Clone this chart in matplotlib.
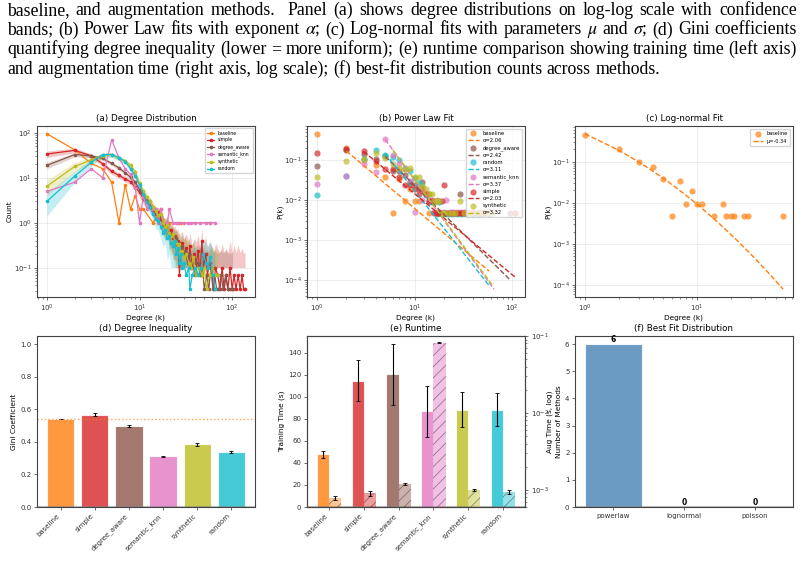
import matplotlib
matplotlib.use('Agg')
import matplotlib.pyplot as plt
import numpy as np

W, H = 804, 572

# methods and colours
methods = ['baseline', 'simple', 'degree_aware', 'semantic_knn', 'synthetic', 'random']
colors = {'baseline': '#ff7f0e', 'simple': '#d62728', 'degree_aware': '#8c564b',
          'semantic_knn': '#e377c2', 'synthetic': '#bcbd22', 'random': '#17becf'}

# degree counts of a single graph per method (panels b, c; baseline and semantic_knn also in a)
base_k = [1, 2, 3, 4, 5, 6, 7, 8, 9, 10, 11, 14, 17, 18, 20, 21, 26, 28, 58]
base_n = [96, 42, 21, 16, 8, 1, 7, 2, 4, 2, 2, 1, 2, 1, 1, 1, 1, 1, 1]
simple_k = [1, 2, 3, 4, 5, 6, 7, 8, 9, 10, 11, 12, 13, 14, 15, 16, 17, 18, 19, 20,
            22, 24, 26, 28, 30, 31, 33, 40, 42, 47, 50, 52, 107]
simple_n = [32, 40, 35, 20, 13, 13, 8, 5, 5, 4, 3, 4, 3, 2, 2, 1, 1, 1, 2, 5,
            1, 1, 1, 1, 1, 1, 1, 1, 1, 1, 1, 1, 1]
da_k = [1, 2, 3, 4, 5, 6, 7, 8, 9, 10, 11, 12, 13, 14, 15, 16, 17, 18, 19,
        21, 23, 25, 29, 32, 35, 38, 44, 48, 56, 95]
da_n = [15, 37, 30, 22, 26, 11, 11, 9, 6, 5, 4, 6, 3, 3, 2, 2, 1, 2, 1,
        1, 1, 1, 3, 1, 1, 1, 1, 1, 1, 1]
sk_k = [1, 2, 3, 4, 5, 6, 7, 8, 9, 10, 11, 12, 13, 14, 15, 16, 17, 18,
        20, 21, 23, 25, 27, 30, 33, 36, 40, 45, 52, 58, 65]
sk_n = [5, 8, 16, 10, 70, 28, 16, 12, 6, 1, 4, 2, 3, 2, 2, 1, 2, 1,
        1, 2, 1, 1, 1, 1, 1, 1, 1, 1, 1, 1, 1]
sy_k = [1, 2, 3, 4, 5, 6, 7, 8, 9, 10, 11, 12, 13, 14, 15, 16, 17, 18, 19, 20,
        22, 24, 26, 29, 32, 36, 41, 47, 55, 62]
sy_n = [8, 21, 23, 32, 25, 17, 14, 13, 14, 8, 8, 5, 4, 3, 3, 2, 2, 2, 1, 1,
        1, 1, 1, 2, 1, 1, 1, 1, 1, 1]
rd_k = [1, 2, 3, 4, 5, 6, 7, 8, 9, 10, 11, 12, 13, 14, 15, 16, 17, 18, 19, 20,
        22, 24, 27, 30, 34, 40, 46, 58]
rd_n = [3, 9, 24, 40, 29, 27, 22, 14, 12, 8, 6, 5, 3, 2, 2, 2, 1, 2, 1, 1,
        1, 1, 1, 1, 1, 1, 1, 1]

# mean / std counts over runs (panel a)
head = list(range(1, 31))
sa_k = head + [32, 34, 35, 37, 39, 41, 43, 45, 47, 49, 52, 54, 57, 60, 63, 66, 70, 74, 78, 82,
               86, 90, 95, 100, 105, 110, 116, 122, 128, 133, 138]
sa_mean = [34, 41, 31, 20.6, 14, 11.3, 9.5, 8.2, 6.2, 4.8, 3.4, 2.9, 2.3, 1.9, 1.6, 1.7, 1.2, 0.95,
           0.8, 1.0, 0.6, 0.7, 0.45, 0.5, 0.33, 0.4, 0.067, 0.3, 0.35, 0.2,
           0.27, 0.13, 0.3, 0.1, 0.2, 0.13, 0.23, 0.067, 0.4, 0.1, 0.2, 0.067, 0.13, 0.1, 0.033, 0.1,
           0.067, 0.033, 0.1, 0.033, 0.067, 0.033, 0.1, 0.033, 0.067, 0.033, 0.067, 0.033, 0.067,
           0.033, 0.033]
sa_std = [5.5, 5, 3.5, 2.6, 2.0, 1.6, 1.4, 1.3, 1.1, 0.9, 0.8, 0.7, 0.6, 0.6, 0.5, 0.55, 0.45, 0.4,
          0.4, 0.45, 0.35, 0.4, 0.3, 0.35, 0.3, 0.35, 0.25, 0.3, 0.3, 0.25,
          0.3, 0.25, 0.3, 0.2, 0.25, 0.25, 0.3, 0.2, 0.35, 0.2, 0.3, 0.2, 0.25, 0.2, 0.18, 0.25,
          0.2, 0.18, 0.25, 0.18, 0.2, 0.18, 0.3, 0.18, 0.25, 0.18, 0.25, 0.18, 0.2, 0.18, 0.18]
daa_k = head + [31, 33, 34, 36, 38, 40, 42, 44, 46, 48, 50, 53, 56, 59, 62, 65, 68, 72, 76, 80,
                85, 90, 96, 101]
daa_mean = [19, 33, 31, 27, 21, 16.5, 13, 10.3, 8, 5.5, 4.2, 3.2, 2.6, 2.0, 1.8, 1.3, 1.4, 1.0,
            0.85, 0.9, 0.6, 0.55, 0.5, 0.4, 0.45, 0.3, 0.35, 0.25, 0.3, 0.2,
            0.23, 0.13, 0.2, 0.1, 0.17, 0.067, 0.13, 0.1, 0.067, 0.1, 0.033, 0.067, 0.033, 0.1,
            0.033, 0.067, 0.033, 0.033, 0.067, 0.033, 0.067, 0.033, 0.033, 0.033]
daa_std = [3, 3.5, 3, 2.5, 2, 1.7, 1.4, 1.2, 1.0, 0.8, 0.7, 0.6, 0.55, 0.5, 0.45, 0.4, 0.45, 0.35,
           0.35, 0.35, 0.3, 0.3, 0.3, 0.25, 0.3, 0.25, 0.25, 0.2, 0.25, 0.2,
           0.25, 0.2, 0.25, 0.18, 0.22, 0.18, 0.2, 0.2, 0.18, 0.2, 0.18, 0.18, 0.18, 0.2,
           0.18, 0.18, 0.18, 0.18, 0.18, 0.18, 0.18, 0.18, 0.18, 0.18]
sya_k = head + [32, 34, 36, 38, 41, 44, 47, 50, 53, 57, 61, 65, 70]
sya_mean = [6.5, 18, 25, 31, 33, 27, 24, 19, 13.5, 7.5, 5, 3.8, 3.0, 2.3, 1.8, 1.5, 1.6, 1.0,
            0.8, 0.9, 0.6, 0.5, 0.55, 0.4, 0.35, 0.3, 0.33, 0.2, 0.23, 0.17,
            0.2, 0.13, 0.1, 0.17, 0.067, 0.1, 0.067, 0.1, 0.033, 0.067, 0.1, 0.067, 0.067]
sya_std = [2.5, 4, 4, 4, 3.5, 3, 2.6, 2.2, 1.7, 1.2, 1.0, 0.8, 0.7, 0.6, 0.55, 0.5, 0.5, 0.4,
           0.4, 0.4, 0.35, 0.3, 0.35, 0.3, 0.3, 0.25, 0.3, 0.25, 0.25, 0.25,
           0.25, 0.22, 0.2, 0.22, 0.18, 0.2, 0.18, 0.2, 0.18, 0.18, 0.2, 0.18, 0.18]
rda_k = head + [32, 34, 35, 37, 40, 43, 46, 49, 52, 55, 58, 62, 65]
rda_mean = [3.0, 11, 22, 33, 33, 28, 23, 16, 11, 6.8, 4.4, 2.9, 2.2, 1.6, 1.2, 1.1, 0.8, 0.6,
            0.7, 0.45, 0.5, 0.35, 0.3, 0.4, 0.2, 0.27, 0.13, 0.2, 0.1, 0.13,
            0.067, 0.1, 0.033, 0.067, 0.1, 0.067, 0.1, 0.2, 0.13, 0.1, 0.17, 0.067, 0.033]
rda_std = [1.6, 3, 4, 4, 4, 3.5, 3, 2.4, 1.8, 1.2, 0.9, 0.7, 0.6, 0.5, 0.45, 0.45, 0.35, 0.3,
           0.35, 0.3, 0.3, 0.25, 0.25, 0.3, 0.2, 0.25, 0.2, 0.2, 0.18, 0.2,
           0.18, 0.2, 0.18, 0.18, 0.2, 0.18, 0.2, 0.25, 0.22, 0.2, 0.22, 0.18, 0.18]

# power law fit parameters (panel b)
pl_alpha = {'baseline': 2.06, 'simple': 2.03, 'degree_aware': 2.42,
            'semantic_knn': 3.37, 'synthetic': 3.32, 'random': 3.11}
pl_kmin = {'baseline': 2, 'simple': 3, 'degree_aware': 5,
           'semantic_knn': 5, 'synthetic': 6, 'random': 5}
pl_const = {'baseline': 0.709, 'simple': 1.545, 'degree_aware': 6.12,
            'semantic_knn': 74.9, 'synthetic': 67.9, 'random': 21.9}

# log-normal fit (panel c)
ln_mu, ln_sigma = -0.34, 1.44

# bar panels
gini = [0.540, 0.567, 0.497, 0.312, 0.384, 0.338]
gini_err = [0.002, 0.008, 0.007, 0.002, 0.007, 0.005]
train_time = [47.7, 114.5, 120.4, 87.0, 88.4, 88.5]
train_err = [3.4, 18.6, 27.5, 23.1, 16.0, 15.2]
aug_time = [7.8e-4, 9.0e-4, 1.2e-3, 0.082, 1.0e-3, 9.4e-4]
aug_err = [0.5e-4, 0.55e-4, 0.04e-3, 0.001, 0.03e-3, 0.5e-4]
fit_names = ['powerlaw', 'lognormal', 'poisson']
fit_counts = [6, 0, 0]

caption = [
    "baseline, and augmentation methods.  Panel (a) shows degree distributions on log-log scale with confidence",
    r"bands; (b) Power Law fits with exponent $\alpha$; (c) Log-normal fits with parameters $\mu$ and $\sigma$; (d) Gini coefficients",
    "quantifying degree inequality (lower = more uniform); (e) runtime comparison showing training time (left axis)",
    "and augmentation time (right axis, log scale); (f) best-fit distribution counts across methods.",
]

single = {'baseline': (base_k, base_n), 'simple': (simple_k, simple_n),
          'degree_aware': (da_k, da_n), 'semantic_knn': (sk_k, sk_n),
          'synthetic': (sy_k, sy_n), 'random': (rd_k, rd_n)}
runs = {'simple': (sa_k, sa_mean, sa_std), 'degree_aware': (daa_k, daa_mean, daa_std),
        'synthetic': (sya_k, sya_mean, sya_std), 'random': (rda_k, rda_mean, rda_std)}

plt.rcParams.update({
    'font.family': 'DejaVu Sans',
    'axes.edgecolor': '#444444',
    'axes.linewidth': 0.8,
    'xtick.major.size': 2.5, 'ytick.major.size': 2.5,
    'xtick.minor.size': 1.5, 'ytick.minor.size': 1.5,
    'xtick.major.width': 0.5, 'ytick.major.width': 0.5,
    'xtick.minor.width': 0.4, 'ytick.minor.width': 0.4,
    'xtick.labelsize': 5, 'ytick.labelsize': 5,
    'xtick.major.pad': 1.5, 'ytick.major.pad': 1.5,
    'xtick.color': '#333333', 'ytick.color': '#333333',
    'hatch.linewidth': 0.6,
})

fig = plt.figure(figsize=(W / 100, H / 100), dpi=100)


def add_ax(left, top):
    return fig.add_axes([left / W, 1 - (top + 171) / H, 218 / W, 171 / H])


ax_a = add_ax(37, 126)
ax_b = add_ax(307, 126)
ax_c = add_ax(575, 126)
ax_d = add_ax(37, 336)
ax_e = add_ax(307, 336)
ax_f = add_ax(575, 336)

title_kw = dict(fontsize=6.3, pad=3.5)
lab_kw = dict(fontsize=5.3)


def labels(ax, xl, yl, yx=-0.11):
    if xl:
        ax.set_xlabel(xl, **lab_kw)
        ax.xaxis.set_label_coords(0.5, -0.1)
    ax.set_ylabel(yl, **lab_kw)
    ax.yaxis.set_label_coords(yx, 0.5)


# (a) degree distribution
for m in methods:
    c = colors[m]
    if m in runs:
        k, mean, std = runs[m]
        k, mean, std = np.array(k), np.array(mean), np.array(std)
        ax_a.fill_between(k, np.maximum(mean - std, 0.1), mean + std, color=c, alpha=0.25, lw=0)
        ax_a.plot(k, mean, '-o', color=c, ms=1.6, lw=0.9, label=m)
    else:
        k, n = single[m]
        ax_a.plot(k, n, '-o', color=c, ms=1.6, lw=0.9, label=m)
ax_a.set_xscale('log')
ax_a.set_yscale('log')
ax_a.grid(True, alpha=0.3, lw=0.5)
ax_a.set_title('(a) Degree Distribution', **title_kw)
labels(ax_a, 'Degree (k)', 'Count')
ax_a.legend(loc='upper right', fontsize=3.3, handlelength=1.6, borderpad=0.5,
            labelspacing=0.4, framealpha=0.8, edgecolor='#cccccc')

# (b) power law fits
order_b = ['baseline'] + sorted(m for m in methods if m != 'baseline')
for m in order_b:
    c = colors[m]
    k, n = single[m]
    k, n = np.array(k), np.array(n, dtype=float)
    p = n / n.sum()
    ax_b.scatter(k, p, s=20, color=c, alpha=0.7, lw=0, label=m)
    kk = np.linspace(pl_kmin[m], k.max(), 60)
    ax_b.plot(kk, pl_const[m] * kk ** -pl_alpha[m], '--', color=c, lw=1.0,
              label=f'α={pl_alpha[m]:.2f}')
ax_b.set_xscale('log')
ax_b.set_yscale('log')
ax_b.grid(True, alpha=0.3, lw=0.5)
ax_b.set_title('(b) Power Law Fit', **title_kw)
labels(ax_b, 'Degree (k)', 'P(k)')
ax_b.legend(loc='upper right', fontsize=3.8, handlelength=2.0, borderpad=0.4,
            labelspacing=0.4, framealpha=0.8, edgecolor='#cccccc')

# (c) log-normal fit
k, n = np.array(base_k), np.array(base_n, dtype=float)
p = n / n.sum()
ax_c.scatter(k, p, s=20, color=colors['baseline'], alpha=0.7, lw=0, label='baseline')
kk = np.arange(1, k.max() + 1)
pdf = np.exp(-(np.log(kk) - ln_mu) ** 2 / (2 * ln_sigma ** 2)) / (kk * ln_sigma * np.sqrt(2 * np.pi))
ax_c.plot(kk, pdf / pdf.sum(), '--', color=colors['baseline'], lw=1.0, label=f'μ={ln_mu:.2f}')
ax_c.set_xscale('log')
ax_c.set_yscale('log')
ax_c.grid(True, alpha=0.3, lw=0.5)
ax_c.set_title('(c) Log-normal Fit', **title_kw)
labels(ax_c, 'Degree (k)', 'P(k)')
ax_c.legend(loc='upper right', fontsize=3.6, handlelength=2.0, borderpad=0.5,
            framealpha=0.8, edgecolor='#cccccc')

# (d) gini
x = np.arange(len(methods))
cols = [colors[m] for m in methods]
ax_d.bar(x, gini, 0.8, yerr=gini_err, color=cols, alpha=0.8, edgecolor='white', lw=0.8,
         error_kw=dict(ecolor='black', elinewidth=0.8, capsize=1.5, capthick=0.6))
ax_d.axhline(gini[0], color=colors['baseline'], ls=':', lw=1.0, alpha=0.7)
ax_d.axhline(0, color='gray', lw=1.5, alpha=0.5)
ax_d.set_ylim(0, 1.05)
ax_d.set_xticks(x)
ax_d.set_xticklabels(methods, rotation=45, ha='right')
ax_d.set_title('(d) Degree Inequality', **title_kw)
labels(ax_d, None, 'Gini Coefficient', -0.092)

# (e) runtime
w = 0.35
ax_e.bar(x - w / 2, train_time, w, yerr=train_err, color=cols, alpha=0.8, edgecolor='white', lw=0.8,
         error_kw=dict(ecolor='black', elinewidth=0.8, capsize=1.5, capthick=0.6))
ax_e.axhline(0, color='gray', lw=1.5, alpha=0.5)
ax_e.set_xticks(x)
ax_e.set_xticklabels(methods, rotation=45, ha='right')
ax_e.set_title('(e) Runtime', **title_kw)
labels(ax_e, None, 'Training Time (s)', -0.10)
ax_e2 = ax_e.twinx()
ax_e2.set_yscale('log')
ax_e2.bar(x + w / 2, aug_time, w, color=cols, alpha=0.45, hatch='///', edgecolor='#222222', lw=0)
ax_e2.errorbar(x + w / 2, aug_time, yerr=aug_err, fmt='none', ecolor='black', elinewidth=0.8,
               capsize=1.5, capthick=0.6)
ax_e2.set_ylim(6e-4, 0.1)
ax_e2.set_ylabel('Aug Time (s, log)', **lab_kw)
ax_e2.yaxis.set_label_coords(1.1, 0.5)

# (f) best fit
xf = np.arange(len(fit_names))
ax_f.bar(xf, fit_counts, 0.8, color='steelblue', alpha=0.8, edgecolor='white', lw=0.8)
for xi, v in zip(xf, fit_counts):
    ax_f.text(xi, v, str(v), ha='center', va='bottom', fontsize=5.5, fontweight='bold')
ax_f.axhline(0, color='gray', lw=1.5, alpha=0.5)
ax_f.set_xticks(xf)
ax_f.set_xticklabels(fit_names)
ax_f.set_ylim(0, 6.3)
ax_f.set_title('(f) Best Fit Distribution', **title_kw)
labels(ax_f, None, 'Number of Methods', -0.06)

# caption text above the figure, justified like the paper
r = fig.canvas.get_renderer()
probe = fig.text(0, 0, caption[3], fontsize=10, family='Liberation Serif', math_fontfamily='stix')
cap_size = 10 * 654 / probe.get_window_extent(r).width
probe.remove()
x0, x1 = 7, 797
baselines = [15, 34.5, 54, 73.5]
for i, line in enumerate(caption):
    words = line.split(' ')
    arts = [fig.text(0, 1 - baselines[i] / H, wd, fontsize=cap_size, family='Liberation Serif',
                     math_fontfamily='stix', va='baseline') for wd in words]
    widths = [a.get_window_extent(r).width if wd else 0 for a, wd in zip(arts, words)]
    if i < 3:
        gap = (x1 - x0 - sum(widths)) / (len(words) - 1)
    else:
        gap = cap_size * 100 / 72 * 0.25
    pos = x0
    for a, wd_w in zip(arts, widths):
        a.set_x(pos / W)
        pos += wd_w + gap

fig.savefig('out.png', dpi=100)
